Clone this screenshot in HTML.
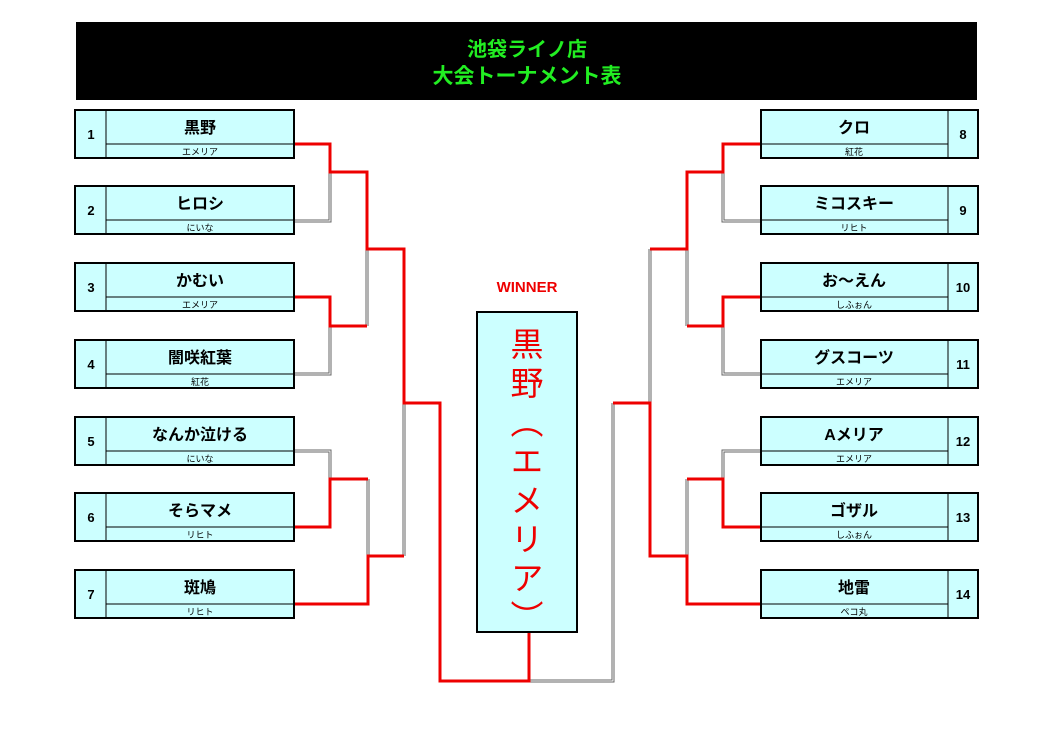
<!DOCTYPE html>
<html><head><meta charset="utf-8"><style>
html,body{margin:0;padding:0;background:#fff;}
body{position:relative;width:1053px;height:744px;overflow:hidden;}
svg{display:block;position:absolute;left:0;top:0;}
text{font-family:"Liberation Sans","Noto Sans CJK JP",sans-serif;}
#win{position:absolute;left:477px;top:327px;width:100px;height:300px;writing-mode:vertical-rl;text-orientation:upright;
font-family:"Noto Sans CJK JP",sans-serif;font-size:33px;line-height:100px;letter-spacing:6px;color:#e00;text-align:start;}
</style></head><body>
<svg width="1053" height="744" viewBox="0 0 1053 744" xmlns="http://www.w3.org/2000/svg">
<rect x="76" y="22" width="901" height="78" fill="#000"/>
<text x="527" y="56" text-anchor="middle" font-size="20" font-weight="bold" fill="#22ee22">池袋ライノ店</text>
<text x="527" y="83" text-anchor="middle" font-size="21" font-weight="bold" fill="#22ee22">大会トーナメント表</text>

<g fill="none" stroke-linejoin="miter">
<g stroke="#666" stroke-width="3">
<path d="M294 221H330V172"/>
<path d="M294 374H330V326"/>
<path d="M367 326V249"/>
<path d="M294 451H330V479"/>
<path d="M368 479V556"/>
<path d="M404 556V403"/>
<path d="M761 221H723V172"/>
<path d="M761 374H723V326"/>
<path d="M687 326V249"/>
<path d="M650 249V403"/>
<path d="M761 451H723V479"/>
<path d="M687 479V556"/>
<path d="M613 403V681H529"/>
</g>
<g stroke="#fff" stroke-width="1">
<path d="M294 221H330V172"/>
<path d="M294 374H330V326"/>
<path d="M367 326V249"/>
<path d="M294 451H330V479"/>
<path d="M368 479V556"/>
<path d="M404 556V403"/>
<path d="M761 221H723V172"/>
<path d="M761 374H723V326"/>
<path d="M687 326V249"/>
<path d="M650 249V403"/>
<path d="M761 451H723V479"/>
<path d="M687 479V556"/>
<path d="M613 403V681H529"/>
</g>
<g stroke="#e00" stroke-width="3">
<path d="M294 144H330V172H367V249H404V403H440V681H529V632"/>
<path d="M294 297H330V326H367"/>
<path d="M294 527H330V479H368"/>
<path d="M294 604H368V556H404"/>
<path d="M761 144H723V172H687V249H650"/>
<path d="M761 297H723V326H687"/>
<path d="M761 527H723V479H687"/>
<path d="M761 604H687V556H650V403H613"/>
</g>
</g>

<g font-weight="bold">
<g transform="translate(0,110)"><rect x="75" y="0" width="219" height="48" fill="#ccffff" stroke="#000" stroke-width="2"/><line x1="106" y1="0" x2="106" y2="48" stroke="#000"/><line x1="106" y1="34" x2="294" y2="34" stroke="#000"/><text x="91" y="29" text-anchor="middle" font-size="13">1</text><text x="200" y="23" text-anchor="middle" font-size="16">黒野</text><text x="200" y="45" text-anchor="middle" font-size="9" font-weight="normal">エメリア</text></g>
<g transform="translate(0,186)"><rect x="75" y="0" width="219" height="48" fill="#ccffff" stroke="#000" stroke-width="2"/><line x1="106" y1="0" x2="106" y2="48" stroke="#000"/><line x1="106" y1="34" x2="294" y2="34" stroke="#000"/><text x="91" y="29" text-anchor="middle" font-size="13">2</text><text x="200" y="23" text-anchor="middle" font-size="16">ヒロシ</text><text x="200" y="45" text-anchor="middle" font-size="9" font-weight="normal">にいな</text></g>
<g transform="translate(0,263)"><rect x="75" y="0" width="219" height="48" fill="#ccffff" stroke="#000" stroke-width="2"/><line x1="106" y1="0" x2="106" y2="48" stroke="#000"/><line x1="106" y1="34" x2="294" y2="34" stroke="#000"/><text x="91" y="29" text-anchor="middle" font-size="13">3</text><text x="200" y="23" text-anchor="middle" font-size="16">かむい</text><text x="200" y="45" text-anchor="middle" font-size="9" font-weight="normal">エメリア</text></g>
<g transform="translate(0,340)"><rect x="75" y="0" width="219" height="48" fill="#ccffff" stroke="#000" stroke-width="2"/><line x1="106" y1="0" x2="106" y2="48" stroke="#000"/><line x1="106" y1="34" x2="294" y2="34" stroke="#000"/><text x="91" y="29" text-anchor="middle" font-size="13">4</text><text x="200" y="23" text-anchor="middle" font-size="16">闇咲紅葉</text><text x="200" y="45" text-anchor="middle" font-size="9" font-weight="normal">紅花</text></g>
<g transform="translate(0,417)"><rect x="75" y="0" width="219" height="48" fill="#ccffff" stroke="#000" stroke-width="2"/><line x1="106" y1="0" x2="106" y2="48" stroke="#000"/><line x1="106" y1="34" x2="294" y2="34" stroke="#000"/><text x="91" y="29" text-anchor="middle" font-size="13">5</text><text x="200" y="23" text-anchor="middle" font-size="16">なんか泣ける</text><text x="200" y="45" text-anchor="middle" font-size="9" font-weight="normal">にいな</text></g>
<g transform="translate(0,493)"><rect x="75" y="0" width="219" height="48" fill="#ccffff" stroke="#000" stroke-width="2"/><line x1="106" y1="0" x2="106" y2="48" stroke="#000"/><line x1="106" y1="34" x2="294" y2="34" stroke="#000"/><text x="91" y="29" text-anchor="middle" font-size="13">6</text><text x="200" y="23" text-anchor="middle" font-size="16">そらマメ</text><text x="200" y="45" text-anchor="middle" font-size="9" font-weight="normal">リヒト</text></g>
<g transform="translate(0,570)"><rect x="75" y="0" width="219" height="48" fill="#ccffff" stroke="#000" stroke-width="2"/><line x1="106" y1="0" x2="106" y2="48" stroke="#000"/><line x1="106" y1="34" x2="294" y2="34" stroke="#000"/><text x="91" y="29" text-anchor="middle" font-size="13">7</text><text x="200" y="23" text-anchor="middle" font-size="16">斑鳩</text><text x="200" y="45" text-anchor="middle" font-size="9" font-weight="normal">リヒト</text></g>

<g transform="translate(0,110)"><rect x="761" y="0" width="217" height="48" fill="#ccffff" stroke="#000" stroke-width="2"/><line x1="948" y1="0" x2="948" y2="48" stroke="#000"/><line x1="761" y1="34" x2="948" y2="34" stroke="#000"/><text x="963" y="29" text-anchor="middle" font-size="13">8</text><text x="854" y="23" text-anchor="middle" font-size="16">クロ</text><text x="854" y="45" text-anchor="middle" font-size="9" font-weight="normal">紅花</text></g>
<g transform="translate(0,186)"><rect x="761" y="0" width="217" height="48" fill="#ccffff" stroke="#000" stroke-width="2"/><line x1="948" y1="0" x2="948" y2="48" stroke="#000"/><line x1="761" y1="34" x2="948" y2="34" stroke="#000"/><text x="963" y="29" text-anchor="middle" font-size="13">9</text><text x="854" y="23" text-anchor="middle" font-size="16">ミコスキー</text><text x="854" y="45" text-anchor="middle" font-size="9" font-weight="normal">リヒト</text></g>
<g transform="translate(0,263)"><rect x="761" y="0" width="217" height="48" fill="#ccffff" stroke="#000" stroke-width="2"/><line x1="948" y1="0" x2="948" y2="48" stroke="#000"/><line x1="761" y1="34" x2="948" y2="34" stroke="#000"/><text x="963" y="29" text-anchor="middle" font-size="13">10</text><text x="854" y="23" text-anchor="middle" font-size="16">お～えん</text><text x="854" y="45" text-anchor="middle" font-size="9" font-weight="normal">しふぉん</text></g>
<g transform="translate(0,340)"><rect x="761" y="0" width="217" height="48" fill="#ccffff" stroke="#000" stroke-width="2"/><line x1="948" y1="0" x2="948" y2="48" stroke="#000"/><line x1="761" y1="34" x2="948" y2="34" stroke="#000"/><text x="963" y="29" text-anchor="middle" font-size="13">11</text><text x="854" y="23" text-anchor="middle" font-size="16">グスコーツ</text><text x="854" y="45" text-anchor="middle" font-size="9" font-weight="normal">エメリア</text></g>
<g transform="translate(0,417)"><rect x="761" y="0" width="217" height="48" fill="#ccffff" stroke="#000" stroke-width="2"/><line x1="948" y1="0" x2="948" y2="48" stroke="#000"/><line x1="761" y1="34" x2="948" y2="34" stroke="#000"/><text x="963" y="29" text-anchor="middle" font-size="13">12</text><text x="854" y="23" text-anchor="middle" font-size="16">Aメリア</text><text x="854" y="45" text-anchor="middle" font-size="9" font-weight="normal">エメリア</text></g>
<g transform="translate(0,493)"><rect x="761" y="0" width="217" height="48" fill="#ccffff" stroke="#000" stroke-width="2"/><line x1="948" y1="0" x2="948" y2="48" stroke="#000"/><line x1="761" y1="34" x2="948" y2="34" stroke="#000"/><text x="963" y="29" text-anchor="middle" font-size="13">13</text><text x="854" y="23" text-anchor="middle" font-size="16">ゴザル</text><text x="854" y="45" text-anchor="middle" font-size="9" font-weight="normal">しふぉん</text></g>
<g transform="translate(0,570)"><rect x="761" y="0" width="217" height="48" fill="#ccffff" stroke="#000" stroke-width="2"/><line x1="948" y1="0" x2="948" y2="48" stroke="#000"/><line x1="761" y1="34" x2="948" y2="34" stroke="#000"/><text x="963" y="29" text-anchor="middle" font-size="13">14</text><text x="854" y="23" text-anchor="middle" font-size="16">地雷</text><text x="854" y="45" text-anchor="middle" font-size="9" font-weight="normal">ペコ丸</text></g>
</g>

<text x="527" y="292" text-anchor="middle" font-size="15" font-weight="bold" fill="#e00">WINNER</text>
<rect x="477" y="312" width="100" height="320" fill="#ccffff" stroke="#000" stroke-width="2"/>
</svg>
<div id="win">黒野（エメリア）</div>
</body></html>
